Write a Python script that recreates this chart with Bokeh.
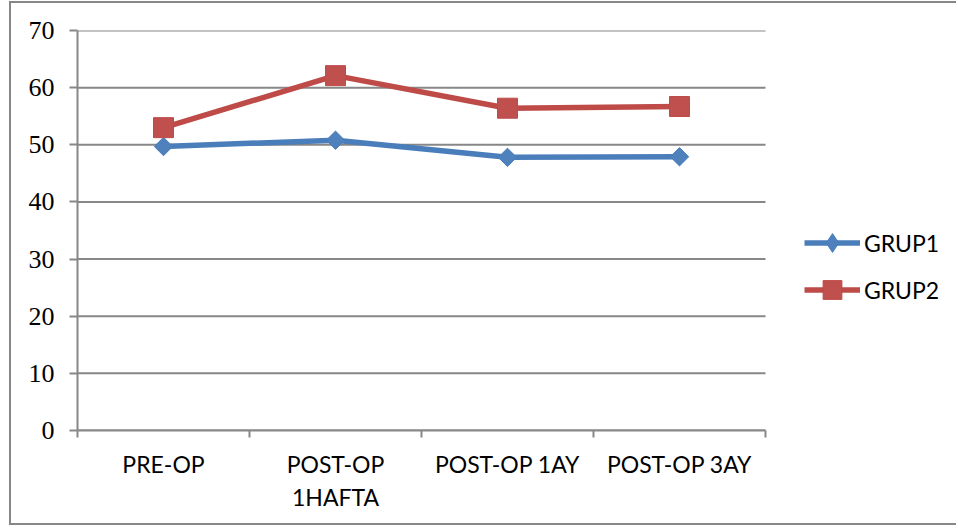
import numpy as np
from bokeh.plotting import figure
from bokeh.models import Range1d, FixedTicker, Legend, LegendItem
from bokeh.embed import file_html
from bokeh.resources import INLINE

# Measurement points and group means
categories = ["PRE-OP", "POST-OP\n1HAFTA", "POST-OP 1AY", "POST-OP 3AY"]
grup1 = [49.7, 50.8, 47.8, 47.9]
grup2 = [53.0, 62.1, 56.4, 56.7]
y_ticks = [0, 10, 20, 30, 40, 50, 60, 70]

n_cat = len(categories)
# category centres sit halfway between the boundary ticks
x_pos = [i + 0.5 for i in range(n_cat)]
x_bounds = list(range(n_cat + 1))

AXIS_GREY = "#878787"
BLUE_LINE, BLUE_FILL = "#4A7EBB", "#4F81BD"
RED_LINE, RED_FILL = "#BE4B48", "#C0504D"

# The frame runs on to the right edge so the legend can live inside it;
# the category axis itself only covers PLOT_W pixels of the FRAME_W frame.
PLOT_W, FRAME_W = 688, 873

p = figure(width=947, height=524,
           x_range=Range1d(0, n_cat * FRAME_W / PLOT_W), y_range=Range1d(0, 70),
           output_backend="svg", toolbar_location=None,
           min_border_left=66, min_border_right=947 - 66 - FRAME_W,
           min_border_top=27, min_border_bottom=97,
           margin=(1, 0, 0, 9),
           styles={"border-left": f"2px solid {AXIS_GREY}",
                   "border-top": f"2px solid {AXIS_GREY}",
                   "border-bottom": f"2px solid {AXIS_GREY}"})
p.outline_line_color = None
p.background_fill_color = "white"
p.border_fill_color = "white"
p.xgrid.visible = False
p.ygrid.visible = False

# horizontal gridlines across the category span only
p.segment(x0=0, y0=y_ticks, x1=n_cat, y1=y_ticks,
          line_color=AXIS_GREY, line_width=2)

# x axis: labels at category centres, tick marks at boundaries
xa = p.xaxis[0]
xa.bounds = (0, n_cat)
xa.ticker = FixedTicker(ticks=x_pos, minor_ticks=x_bounds)
xa.major_label_overrides = {x: c for x, c in zip(x_pos, categories)}
xa.major_tick_out = 0
xa.major_tick_in = 0
xa.minor_tick_out = 7
xa.minor_tick_in = 0
xa.minor_tick_line_color = AXIS_GREY
xa.minor_tick_line_width = 2
xa.axis_line_color = AXIS_GREY
xa.axis_line_width = 2
xa.major_label_text_font = "Lato"
xa.major_label_text_font_size = "23px"
xa.major_label_text_color = "black"
xa.major_label_standoff = 12

# y axis
ya = p.yaxis[0]
ya.ticker = FixedTicker(ticks=y_ticks)
ya.major_tick_out = 8
ya.major_tick_in = 0
ya.minor_tick_line_color = None
ya.major_tick_line_color = AXIS_GREY
ya.major_tick_line_width = 2
ya.axis_line_color = AXIS_GREY
ya.axis_line_width = 2
ya.major_label_text_font = "Liberation Serif"
ya.major_label_text_font_size = "26px"
ya.major_label_text_color = "black"
ya.major_label_standoff = 15

# series
l1 = p.line(x_pos, grup1, line_color=BLUE_LINE, line_width=5.5)
# upright diamonds used as the legend swatch (legend glyphs are drawn
# unrotated); they sit fully underneath the rotated-square markers
s1_key = p.scatter(x_pos, grup1, marker="diamond", size=12,
                   fill_color=BLUE_FILL, line_color=BLUE_LINE)
s1 = p.scatter(x_pos, grup1, marker="square", angle=np.pi / 4, size=13,
               fill_color=BLUE_FILL, line_color=BLUE_LINE)
l2 = p.line(x_pos, grup2, line_color=RED_LINE, line_width=5.5)
s2 = p.scatter(x_pos, grup2, marker="square", size=20,
               fill_color=RED_FILL, line_color=RED_LINE)

legend = Legend(items=[LegendItem(label="GRUP1", renderers=[l1, s1_key]),
                       LegendItem(label="GRUP2", renderers=[l2, s2])],
                location=(727, 117), padding=0, margin=0, spacing=0,
                glyph_width=56, glyph_height=47, label_standoff=4,
                label_text_font="Lato", label_text_font_size="23px",
                label_text_color="black",
                border_line_color=None, background_fill_alpha=0)
p.add_layout(legend)

open("out.html", "w").write(file_html(p, INLINE))
